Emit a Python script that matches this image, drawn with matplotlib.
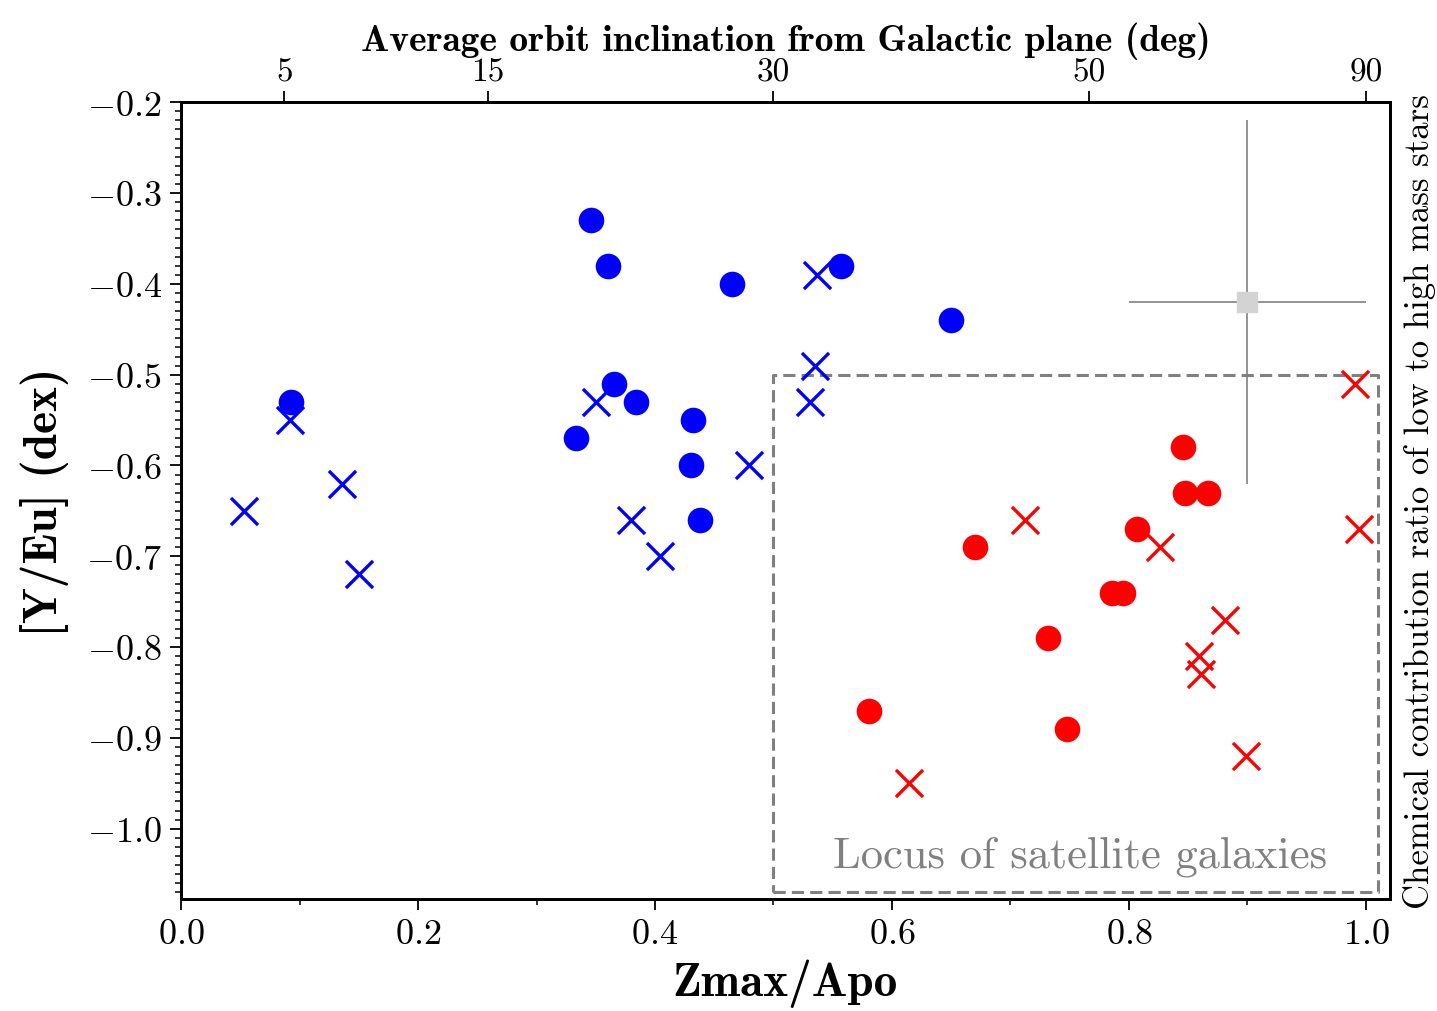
import numpy as np
import matplotlib
matplotlib.use("Agg")
import matplotlib.pyplot as plt
from matplotlib.ticker import MultipleLocator

plt.rcParams['font.family'] = ['cmr10', 'DejaVu Serif']
plt.rcParams['mathtext.fontset'] = 'cm'
plt.rcParams['axes.formatter.use_mathtext'] = True
plt.rcParams['axes.unicode_minus'] = True

# ---- data ----
blue_circle_x = [0.346, 0.360, 0.465, 0.557, 0.650, 0.093, 0.365, 0.384, 0.333, 0.432, 0.430, 0.438]
blue_circle_y = [-0.33, -0.38, -0.40, -0.38, -0.44, -0.53, -0.51, -0.53, -0.57, -0.55, -0.60, -0.66]

blue_cross_x = [0.092, 0.053, 0.136, 0.150, 0.350, 0.380, 0.404, 0.479, 0.537, 0.535, 0.531]
blue_cross_y = [-0.55, -0.65, -0.62, -0.72, -0.53, -0.66, -0.70, -0.60, -0.39, -0.49, -0.53]

red_circle_x = [0.846, 0.847, 0.867, 0.807, 0.670, 0.786, 0.795, 0.732, 0.581, 0.748]
red_circle_y = [-0.58, -0.63, -0.63, -0.67, -0.69, -0.74, -0.74, -0.79, -0.87, -0.89]

red_cross_x = [0.712, 0.826, 0.994, 0.881, 0.859, 0.861, 0.899, 0.614, 0.991]
red_cross_y = [-0.66, -0.69, -0.67, -0.77, -0.81, -0.83, -0.92, -0.95, -0.51]

err_x, err_y = [0.90], [-0.42]
err_xerr, err_yerr = [0.10], [0.20]

box_x = [0.50, 1.01]
box_y = [-1.07, -0.50]

top_tick_deg = [5, 15, 30, 50, 90]

fig = plt.figure(figsize=(14.37, 10.12), dpi=100)
ax = fig.add_axes([0.126, 0.111, 0.841, 0.787])

ax.scatter(blue_circle_x, blue_circle_y, s=340, marker='o', color='blue', zorder=3, linewidths=0)
ax.scatter(blue_cross_x, blue_cross_y, s=380, marker='x', color='blue', zorder=3, linewidths=2.4)
ax.scatter(red_circle_x, red_circle_y, s=340, marker='o', color='red', zorder=3, linewidths=0)
ax.scatter(red_cross_x, red_cross_y, s=380, marker='x', color='red', zorder=3, linewidths=2.4)

ax.errorbar(err_x, err_y, xerr=err_xerr, yerr=err_yerr, fmt='s', color='#d3d3d3',
            ecolor='#808080', elinewidth=1.2, ms=14, capsize=0, zorder=2)

ax.plot([box_x[0], box_x[1], box_x[1], box_x[0], box_x[0]],
        [box_y[0], box_y[0], box_y[1], box_y[1], box_y[0]],
        ls=(0, (4, 2)), color='#808080', lw=2.2, zorder=1)
ax.text(0.759, -1.042, 'Locus of satellite galaxies', color='#808080', fontsize=32,
        ha='center', va='baseline', family='cmr10')

ax.set_xlim(0, 1.02)
ax.set_ylim(-1.077, -0.2)
ax.xaxis.set_major_locator(MultipleLocator(0.2))
ax.xaxis.set_minor_locator(MultipleLocator(0.1))
ax.yaxis.set_major_locator(MultipleLocator(0.1))
ax.yaxis.set_minor_locator(MultipleLocator(0.01))
ax.tick_params(axis='both', which='major', labelsize=26, length=8, width=1.3,
               direction='out', pad=6)
ax.tick_params(axis='both', which='minor', length=4.5, width=1.1, direction='out')
for sp in ax.spines.values():
    sp.set_linewidth(2.0)

ax.set_xlabel('Zmax/Apo', family='cmb10', fontsize=34, labelpad=6)
ax.set_ylabel('[Y/Eu] (dex)', family='cmb10', fontsize=34, labelpad=12)

ax2 = ax.twiny()
ax2.set_xlim(ax.get_xlim())
ax2.set_xticks(np.sin(np.radians(top_tick_deg)))
ax2.set_xticklabels([str(d) for d in top_tick_deg])
ax2.tick_params(axis='x', which='major', labelsize=24, length=8, width=1.3, pad=3)
ax2.set_xlabel('Average orbit inclination from Galactic plane (deg)', family='cmb10',
               fontsize=27, labelpad=6)
for sp in ax2.spines.values():
    sp.set_linewidth(2.0)

fig.text(0.988, 0.504, 'Chemical contribution ratio of low to high mass stars',
         rotation=90, ha='center', va='center', fontsize=25, family='cmr10')

fig.savefig('out.png', dpi=100)
